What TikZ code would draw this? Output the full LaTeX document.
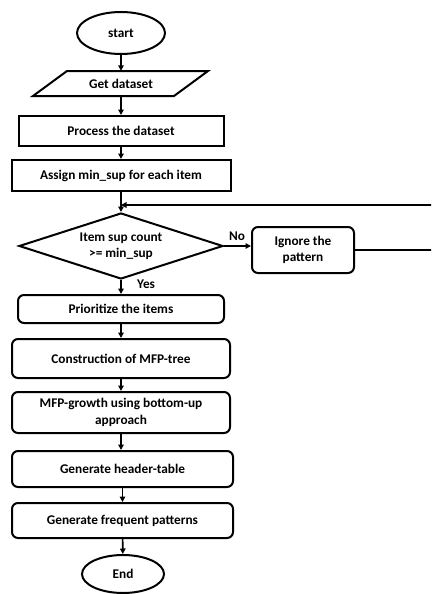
\documentclass[tikz,border=0pt]{standalone}
\usepackage{fontspec}
\setmainfont{Carlito}
\usetikzlibrary{shapes.geometric,arrows.meta}
\begin{document}
\begin{tikzpicture}[x=1pt,y=-1pt,
  every node/.style={font=\fontsize{13.3}{16.5}\selectfont\bfseries},
  flowline/.style={line width=1.6pt},
  arr/.style={flowline,-{Triangle[length=5.5pt,width=5.5pt]}},
  boxsq/.style={draw,line width=2pt,inner sep=0pt,align=center},
  boxrd/.style={boxsq,rounded corners=6pt},
  term/.style={draw,ellipse,line width=2pt,inner sep=0pt},
  decision/.style={draw,diamond,line width=2pt,inner sep=0pt,aspect=3.09,align=center},
  lbl/.style={inner sep=0pt}]
\useasboundingbox (0,0) rectangle (431,594);
\clip (0,0) rectangle (431,594);
% nodes
\node[term,minimum width=88,minimum height=42] (start) at (121,33) {start};
\node[inner sep=0pt,minimum width=140,minimum height=25] (get) at (121,83.5) {Get dataset};
\draw[line width=2pt] (67,71) -- (208,71) -- (174,96) -- (33,96) -- cycle;
\node[boxsq,minimum width=205,minimum height=30] (proc) at (121,131) {Process the dataset};
\node[boxsq,minimum width=219,minimum height=31] (assign) at (121,175.5) {Assign min\_sup for each item};
\coordinate (merge) at (121,205);
\node[decision,minimum width=204,minimum height=66] (dec) at (121,246) {Item sup count\\{>}= min\_sup};
\node[boxrd,minimum width=102,minimum height=46] (ign) at (303,250) {Ignore the\\pattern};
\node[boxrd,minimum width=206,minimum height=28] (prio) at (121,309) {Prioritize the items};
\node[boxrd,minimum width=218,minimum height=39] (cons) at (121,358.5) {Construction of MFP-tree};
\node[boxrd,minimum width=218,minimum height=41] (mfp) at (121,412.5) {MFP-growth using bottom-up\\approach};
\node[boxrd,minimum width=221,minimum height=36] (head) at (122.5,469) {Generate header-table};
\node[boxrd,minimum width=221,minimum height=35] (freq) at (122.5,520.5) {Generate frequent patterns};
\node[term,minimum width=82,minimum height=38] (end) at (123,574) {End};
% connectors
\draw[arr] (start) -- (get.north);
\draw[arr] (get.south) -- (proc);
\draw[arr] (proc) -- (assign);
\draw[arr] (assign) -- (dec);
\draw[arr] (dec) -- (ign.west |- dec.east);
\draw[arr] (ign.east) -- (445,250) |- (merge);
\draw[arr] (dec) -- (prio);
\draw[arr] (prio) -- (cons);
\draw[arr] (cons) -- (mfp);
\draw[arr] (mfp.south) -- (mfp.south |- head.north);
\draw[arr] (head) -- (freq);
\draw[arr] (freq) -- (end);
% labels
\node[lbl,anchor=south west] (no) at (229,241) {No};
\node[lbl,anchor=north west] (yes) at (137,280) {Yes};
\end{tikzpicture}
\end{document}
